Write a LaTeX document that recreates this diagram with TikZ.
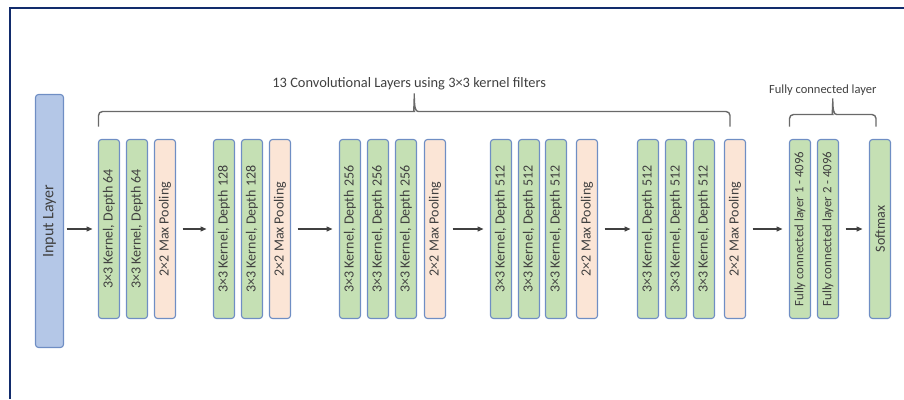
\documentclass[tikz,border=0pt]{standalone}
\usepackage{fontspec}
\setmainfont{Carlito}
\usetikzlibrary{arrows.meta, positioning, calc}

\definecolor{convgreen}{RGB}{197,224,180}
\definecolor{poolpink}{RGB}{251,229,214}
\definecolor{inputblue}{RGB}{180,199,231}
\definecolor{edgeblue}{RGB}{111,142,196}
\definecolor{framenavy}{RGB}{18,44,108}
\definecolor{textgrey}{RGB}{64,64,64}
\definecolor{bracegrey}{RGB}{105,105,105}

% text standing upright inside the tall boxes
\newcommand{\vlab}[1]{\rotatebox{90}{#1}}

\tikzset{
  layer/.style={draw=edgeblue, line width=1.1pt, rounded corners=3pt,
    minimum width=21pt, minimum height=179pt, inner sep=0pt, outer sep=0pt,
    text=textgrey, font=\fontsize{14}{16}\selectfont},
  conv/.style={layer, fill=convgreen},
  pool/.style={layer, fill=poolpink},
  fcl/.style={layer, fill=convgreen, font=\fontsize{12.8}{14}\selectfont},
  flow/.style={draw=textgrey, line width=1.3pt, -{Triangle[length=6pt,width=5pt]},
    shorten <=7pt, shorten >=7pt},
  bracket/.style={draw=bracegrey, line width=1.4pt},
  bracelabel/.style={text=textgrey, inner sep=0pt},
}

\begin{document}
\begin{tikzpicture}[x=1pt, y=1pt]
  \useasboundingbox (0,0) rectangle (904,-399);
  \draw[framenavy, line width=2.5pt] (904,-8.2) -| (10,-399);

  % input
  \node[layer, fill=inputblue, minimum width=28pt, minimum height=253pt,
    font=\fontsize{16}{18}\selectfont] (inp) at (49.5,-221) {\vlab{Input Layer}};

  % block 1
  \node[conv] (c11) at (109,-229) {\vlab{3×3 Kernel, Depth 64}};
  \node[conv, right=7pt of c11] (c12) {\vlab{3×3 Kernel, Depth 64}};
  \node[pool, right=7pt of c12] (p1) {\vlab{2×2 Max Pooling}};

  % block 2
  \node[conv, right=38pt of p1] (c21) {\vlab{3×3 Kernel, Depth 128}};
  \node[conv, right=7pt of c21] (c22) {\vlab{3×3 Kernel, Depth 128}};
  \node[pool, right=7pt of c22] (p2) {\vlab{2×2 Max Pooling}};

  % block 3
  \node[conv, right=49pt of p2] (c31) {\vlab{3×3 Kernel, Depth 256}};
  \node[conv, right=7pt of c31] (c32) {\vlab{3×3 Kernel, Depth 256}};
  \node[conv, right=7pt of c32] (c33) {\vlab{3×3 Kernel, Depth 256}};
  \node[pool, right=8pt of c33] (p3) {\vlab{2×2 Max Pooling}};

  % block 4
  \node[conv, right=45pt of p3] (c41) {\vlab{3×3 Kernel, Depth 512}};
  \node[conv, right=7pt of c41] (c42) {\vlab{3×3 Kernel, Depth 512}};
  \node[conv, right=6pt of c42] (c43) {\vlab{3×3 Kernel, Depth 512}};
  \node[pool, right=10pt of c43] (p4) {\vlab{2×2 Max Pooling}};

  % block 5
  \node[conv, right=40pt of p4] (c51) {\vlab{3×3 Kernel, Depth 512}};
  \node[conv, right=7pt of c51] (c52) {\vlab{3×3 Kernel, Depth 512}};
  \node[conv, right=7pt of c52] (c53) {\vlab{3×3 Kernel, Depth 512}};
  \node[pool, right=10pt of c53] (p5) {\vlab{2×2 Max Pooling}};

  % dense part
  \node[fcl, right=44pt of p5] (fc1) {\vlab{Fully connected layer 1 - 4096}};
  \node[fcl, right=7pt of fc1] (fc2) {\vlab{Fully connected layer 2 - 4096}};
  \node[conv, right=31pt of fc2] (smax) {\vlab{Softmax}};

  % arrows between stages
  \draw[flow, shorten <=3pt, shorten >=6pt] (inp.east |- c11.west) -- (c11.west);
  \draw[flow] (p1) -- (c21);
  \draw[flow] (p2) -- (c31);
  \draw[flow] (p3) -- (c41);
  \draw[flow] (p4) -- (c51);
  \draw[flow] (p5) -- (fc1);
  \draw[flow] (fc2) -- (smax);

  % brace over the conv layers
  \coordinate (bl) at ([yshift=13pt]c11.north west);
  \coordinate (br) at ([xshift=-5pt, yshift=13pt]p5.north);
  \coordinate (bm) at ($(bl)!.5!(br)$);
  \draw[bracket] (bl) [rounded corners=4pt] -- ++(0,15) -- ($(bm)+(-4,15)$)
    [sharp corners] .. controls ($(bm)+(-1,15)$) and ($(bm)+(0,19)$) .. ($(bm)+(0,33)$) coordinate (btip)
    .. controls ($(bm)+(0,19)$) and ($(bm)+(1,15)$) .. ($(bm)+(4,15)$)
    [rounded corners=4pt] -- ($(br)+(0,15)$) -- (br);
  \node[bracelabel, above=3pt of btip, xshift=-5pt, font=\fontsize{14.4}{16}\selectfont] (convlbl)
    {13 Convolutional Layers using 3×3 kernel filters};

  % brace over the dense layers
  \coordinate (fl) at ([yshift=13pt]fc1.north west);
  \coordinate (fr) at ([xshift=-4pt, yshift=13pt]smax.north);
  \coordinate (fm) at ($(fl)!.5!(fr)$);
  \draw[bracket] (fl) [rounded corners=4pt] -- ++(0,12) -- ($(fm)+(-4,12)$)
    [sharp corners] .. controls ($(fm)+(-1,12)$) and ($(fm)+(0,16)$) .. ($(fm)+(0,28)$) coordinate (ftip)
    .. controls ($(fm)+(0,16)$) and ($(fm)+(1,12)$) .. ($(fm)+(4,12)$)
    [rounded corners=4pt] -- ($(fr)+(0,12)$) -- (fr);
  \node[bracelabel, above=3pt of ftip, xshift=-10pt, font=\fontsize{12.5}{14}\selectfont] (fclbl)
    {Fully connected layer};
\end{tikzpicture}
\end{document}
